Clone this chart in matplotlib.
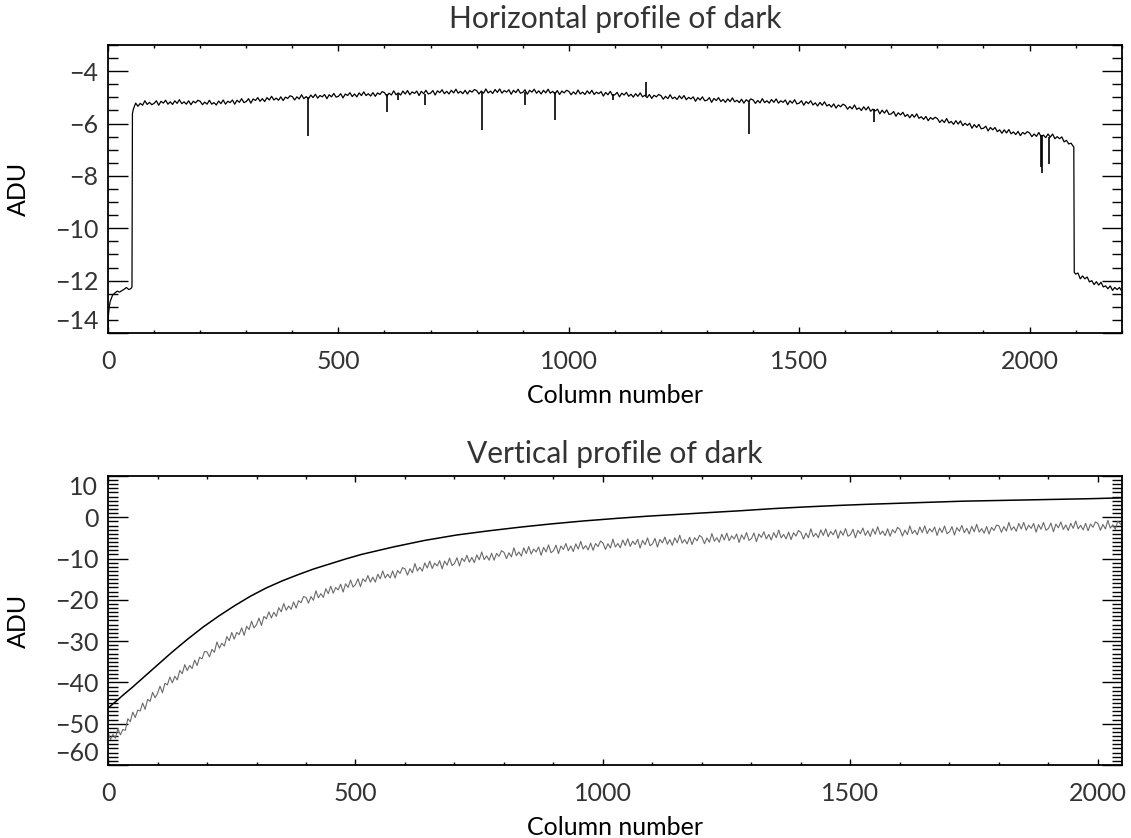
import matplotlib
matplotlib.use("Agg")
import matplotlib.pyplot as plt
import numpy as np
from matplotlib.ticker import MultipleLocator

plt.rcParams['font.family'] = ['Lato', 'DejaVu Sans']
plt.rcParams['font.size'] = 18
plt.rcParams['text.color'] = '#333333'
plt.rcParams['xtick.labelcolor'] = '#333333'
plt.rcParams['ytick.labelcolor'] = '#333333'

# ---- horizontal profile: mean ADU per column, every 5th column ----
cols_h = np.arange(0, 2201, 5)
adu_h = [
    -13.90, -12.78, -12.55, -12.47, -12.40, -12.44, -12.38, -12.33, -12.26, -12.34, -12.30, -5.45,
    -5.22, -5.34, -5.23, -5.30, -5.13, -5.27, -5.19, -5.28,
    -5.23, -5.13, -5.30, -5.15, -5.22, -5.11, -5.26, -5.17, -5.27, -5.13,
    -5.23, -5.09, -5.24, -5.17, -5.26, -5.13, -5.28, -5.15, -5.21, -5.11,
    -5.15, -5.28, -5.18, -5.26, -5.11, -5.26, -5.20, -5.29, -5.14, -5.24,
    -5.10, -5.26, -5.15, -5.20, -5.10, -5.26, -5.11, -5.19, -5.05, -5.20,
    -5.16, -5.05, -5.22, -5.06, -5.12, -5.01, -5.15, -5.05, -5.16, -5.01,
    -5.10, -4.96, -5.10, -5.03, -5.11, -4.98, -5.12, -4.99, -5.04, -4.94,
    -4.97, -5.10, -4.98, -5.06, -4.90, -5.05, -4.97, -5.06, -4.91, -5.01,
    -4.88, -5.03, -4.93, -4.98, -4.89, -5.05, -4.90, -4.98, -4.85, -4.99,
    -4.96, -4.86, -5.02, -4.87, -4.93, -4.82, -4.97, -4.87, -4.98, -4.83,
    -4.93, -4.79, -4.93, -4.86, -4.95, -4.82, -4.96, -4.83, -4.89, -4.78,
    -4.82, -4.95, -4.84, -4.91, -4.75, -4.90, -4.83, -4.91, -4.76, -4.87,
    -4.74, -4.90, -4.79, -4.85, -4.76, -4.93, -4.77, -4.86, -4.73, -4.87,
    -4.84, -4.74, -4.91, -4.75, -4.82, -4.71, -4.86, -4.77, -4.87, -4.73,
    -4.83, -4.69, -4.84, -4.77, -4.86, -4.73, -4.87, -4.74, -4.80, -4.70,
    -4.74, -4.87, -4.76, -4.84, -4.68, -4.83, -4.76, -4.85, -4.70, -4.81,
    -4.68, -4.84, -4.74, -4.80, -4.71, -4.88, -4.73, -4.82, -4.69, -4.84,
    -4.81, -4.71, -4.88, -4.73, -4.80, -4.69, -4.84, -4.75, -4.87, -4.73,
    -4.83, -4.69, -4.84, -4.77, -4.87, -4.74, -4.89, -4.76, -4.83, -4.73,
    -4.77, -4.90, -4.79, -4.88, -4.72, -4.87, -4.80, -4.89, -4.75, -4.86,
    -4.73, -4.89, -4.80, -4.86, -4.78, -4.95, -4.81, -4.90, -4.77, -4.93,
    -4.90, -4.81, -4.98, -4.84, -4.91, -4.81, -4.96, -4.88, -4.99, -4.86,
    -4.96, -4.83, -4.98, -4.92, -5.01, -4.89, -5.04, -4.92, -4.98, -4.89,
    -4.93, -5.07, -4.96, -5.05, -4.90, -5.05, -4.99, -5.08, -4.94, -5.05,
    -4.93, -5.09, -5.00, -5.06, -4.98, -5.15, -5.01, -5.10, -4.98, -5.13,
    -5.11, -5.01, -5.19, -5.04, -5.12, -5.01, -5.16, -5.08, -5.19, -5.06,
    -5.16, -5.02, -5.17, -5.11, -5.20, -5.07, -5.22, -5.09, -5.16, -5.06,
    -5.10, -5.23, -5.12, -5.21, -5.05, -5.20, -5.13, -5.22, -5.08, -5.19,
    -5.06, -5.22, -5.13, -5.19, -5.10, -5.28, -5.13, -5.22, -5.09, -5.25,
    -5.22, -5.13, -5.30, -5.16, -5.24, -5.13, -5.29, -5.21, -5.33, -5.19,
    -5.30, -5.17, -5.33, -5.27, -5.37, -5.25, -5.41, -5.29, -5.36, -5.26,
    -5.31, -5.45, -5.35, -5.44, -5.29, -5.46, -5.40, -5.50, -5.36, -5.48,
    -5.36, -5.53, -5.45, -5.52, -5.45, -5.63, -5.49, -5.60, -5.48, -5.65,
    -5.63, -5.54, -5.72, -5.59, -5.67, -5.57, -5.73, -5.65, -5.78, -5.65,
    -5.76, -5.63, -5.80, -5.74, -5.84, -5.73, -5.89, -5.77, -5.84, -5.76,
    -5.81, -5.96, -5.86, -5.96, -5.81, -5.98, -5.92, -6.03, -5.89, -6.02,
    -5.90, -6.08, -5.99, -6.07, -5.99, -6.18, -6.04, -6.15, -6.03, -6.20,
    -6.18, -6.10, -6.28, -6.15, -6.24, -6.15, -6.31, -6.24, -6.37, -6.24,
    -6.36, -6.23, -6.39, -6.32, -6.42, -6.30, -6.46, -6.34, -6.40, -6.31,
    -6.36, -6.50, -6.40, -6.49, -6.34, -6.50, -6.44, -6.54, -6.40, -6.52,
    -6.40, -6.58, -6.50, -6.58, -6.51, -6.70, -6.64, -6.78, -6.75, -6.88,
    -11.75, -11.71, -11.93, -11.82, -11.93, -11.86, -12.05, -12.00, -12.15, -12.04,
    -12.17, -12.06, -12.24, -12.20, -12.31, -12.20, -12.37, -12.26, -12.34, -12.26,
    -12.40,
]
# sharp transitions: first columns and the edges of the exposed area
edge_cols = [1, 3, 52, 53, 2096, 2097]
edge_adu = [-13.3, -12.95, -12.24, -5.62, -6.90, -11.68]
# bad columns: local level and tip of each spike
spike_cols = [434, 606, 630, 687, 812, 905, 971, 1097, 1167, 1392, 1662, 2024, 2028, 2043]
spike_level = [-4.98, -4.88, -4.88, -4.86, -4.78, -4.80, -4.80, -4.87, -4.95, -5.12, -5.45, -6.45, -6.45, -6.52]
spike_tip = [-6.47, -5.55, -5.10, -5.30, -6.23, -5.30, -5.87, -5.10, -4.41, -6.38, -5.94, -7.66, -7.89, -7.55]

# ---- vertical profile ----
# mean over the frame, per row
rows_mean = [0, 16, 32, 48, 64, 96, 128, 160, 192, 224, 256, 288, 320, 352, 384, 416,
             448, 480, 512, 576, 640, 704, 768, 832, 896, 960, 1024, 1088, 1152, 1216,
             1280, 1344, 1408, 1472, 1536, 1600, 1664, 1728, 1792, 1856, 1920, 1984, 2047]
adu_mean = [-46.2, -44.6, -42.9, -41.3, -39.6, -36.2, -32.8, -29.6, -26.6, -23.9, -21.4,
            -19.1, -17.1, -15.4, -13.9, -12.5, -11.3, -10.1, -9.0, -7.2, -5.6, -4.3,
            -3.3, -2.4, -1.6, -0.9, -0.3, 0.25, 0.7, 1.15, 1.6, 2.1, 2.5, 2.85, 3.15,
            3.4, 3.65, 3.9, 4.05, 4.2, 4.35, 4.5, 4.7]

# single cut through the frame, every 5th row
rows_cut = list(range(0, 2041, 5)) + [2047]
adu_cut = [
    -52.1, -53.8, -52.6, -53.5, -51.2, -52.7, -51.4, -51.6, -48.8, -49.5,
    -47.2, -48.5, -46.7, -46.9, -45.0, -46.5, -44.1, -44.6, -42.4, -43.7,
    -42.7, -40.9, -42.5, -40.2, -40.6, -38.7, -40.1, -38.5, -39.4, -37.1,
    -37.9, -35.7, -37.1, -35.9, -36.6, -34.6, -35.9, -33.9, -34.3, -32.5,
    -32.6, -33.8, -32.0, -32.7, -30.2, -31.7, -30.5, -31.2, -28.9, -29.9,
    -27.9, -29.5, -27.9, -28.4, -26.8, -28.6, -26.4, -27.2, -25.2, -26.8,
    -26.0, -24.4, -26.2, -24.0, -24.6, -22.9, -24.4, -23.0, -24.0, -21.9,
    -22.9, -20.9, -22.5, -21.5, -22.3, -20.5, -22.0, -20.2, -20.7, -19.2,
    -19.4, -20.8, -19.2, -20.1, -17.8, -19.5, -18.5, -19.4, -17.3, -18.5,
    -16.7, -18.4, -17.0, -17.6, -16.2, -18.1, -16.1, -17.0, -15.2, -16.9,
    -16.3, -14.9, -16.8, -14.9, -15.6, -14.1, -15.7, -14.5, -15.7, -13.8,
    -14.9, -13.0, -14.7, -13.8, -14.7, -13.0, -14.7, -12.9, -13.6, -12.2,
    -12.5, -14.0, -12.45, -13.45, -11.2, -13.0, -12.1, -13.05, -11.05, -12.3,
    -10.6, -12.4, -11.1, -11.8, -10.5, -12.5, -10.6, -11.6, -9.9, -11.7,
    -11.2, -9.8, -11.8, -9.9, -10.7, -9.2, -10.9, -9.7, -11.0, -9.1,
    -10.3, -8.4, -10.25, -9.35, -10.4, -8.7, -10.4, -8.75, -9.45, -8.1,
    -8.5, -10.0, -8.6, -9.6, -7.4, -9.3, -8.4, -9.4, -7.4, -8.8,
    -7.1, -8.9, -7.7, -8.4, -7.2, -9.2, -7.3, -8.4, -6.7, -8.6,
    -8.1, -6.75, -8.8, -6.95, -7.8, -6.35, -8.1, -6.95, -8.3, -6.45,
    -7.7, -5.85, -7.7, -6.85, -7.9, -6.25, -8.0, -6.35, -7.1, -5.75,
    -6.25, -7.8, -6.4, -7.45, -5.3, -7.2, -6.35, -7.4, -5.5, -6.85,
    -5.2, -7.05, -5.8, -6.6, -5.35, -7.45, -5.6, -6.65, -5.0, -6.9,
    -6.45, -5.1, -7.2, -5.35, -6.2, -4.8, -6.55, -5.4, -6.8, -4.95,
    -6.2, -4.35, -6.25, -5.4, -6.45, -4.85, -6.6, -4.95, -5.7, -4.4,
    -4.85, -6.4, -5.0, -6.05, -3.95, -5.8, -4.95, -6.05, -4.1, -5.5,
    -3.85, -5.7, -4.5, -5.25, -4.05, -6.1, -4.25, -5.35, -3.7, -5.6,
    -5.15, -3.8, -5.9, -4.05, -4.9, -3.5, -5.25, -4.15, -5.5, -3.7,
    -4.95, -3.1, -5.0, -4.15, -5.25, -3.6, -5.4, -3.75, -4.55, -3.2,
    -3.7, -5.3, -3.85, -4.95, -2.8, -4.7, -3.9, -4.95, -3.05, -4.4,
    -2.8, -4.7, -3.45, -4.25, -3.0, -5.1, -3.3, -4.35, -2.75, -4.6,
    -4.2, -2.9, -4.95, -3.15, -4.0, -2.6, -4.4, -3.25, -4.65, -2.8,
    -4.1, -2.3, -4.15, -3.35, -4.45, -2.8, -4.6, -3.0, -3.8, -2.45,
    -2.95, -4.55, -3.1, -4.2, -2.1, -3.95, -3.15, -4.25, -2.35, -3.7,
    -2.1, -3.95, -2.75, -3.55, -2.35, -4.4, -2.6, -3.7, -2.1, -3.95,
    -3.55, -2.25, -4.3, -2.5, -3.4, -1.95, -3.75, -2.65, -4.05, -2.2,
    -3.5, -1.7, -3.6, -2.75, -3.85, -2.25, -4.05, -2.45, -3.2, -1.9,
    -2.1, -3.65, -2.25, -3.35, -1.25, -3.1, -2.3, -3.4, -1.5, -2.85,
    -1.25, -3.15, -1.9, -2.7, -1.5, -3.6, -1.8, -2.9, -1.25, -3.15,
    -2.7, -1.4, -3.5, -1.65, -2.55, -1.15, -2.95, -1.85, -3.2, -1.45,
    -2.7, -0.9, -2.8, -1.95, -3.05, -1.45, -3.25, -1.63, -2.42, -1.11,
    -1.55, -3.15, -1.74, -2.83, -0.74, -2.63, -1.82, -2.88, -0.97,
    -1.8,
]

col_all = np.concatenate([cols_h, edge_cols])
adu_all = np.concatenate([adu_h, edge_adu])
order = np.argsort(col_all, kind='stable')

fig = plt.figure(figsize=(11.31, 8.38), dpi=100)
ax1 = fig.add_axes([0.0955, 0.6026, 0.8963, 0.3437])
ax2 = fig.add_axes([0.0955, 0.0871, 0.8963, 0.3449])

ax1.plot(col_all[order], adu_all[order], color='black', lw=0.9)
ax1.vlines(spike_cols, spike_level, spike_tip, color='black', lw=1.2)
ax1.set_xlim(0, 2200)
ax1.set_ylim(-14, -3)
ax1.yaxis.set_major_locator(MultipleLocator(2))
ax1.yaxis.set_minor_locator(MultipleLocator(0.5))
ax1.set_title('Horizontal profile of dark', pad=12.5)

ax2.plot(rows_cut, adu_cut, color='#6a6a6a', lw=0.8)
ax2.plot(rows_mean, adu_mean, color='black', lw=1.1)
ax2.set_xlim(0, 2048)
ax2.set_ylim(-60, 10)
ax2.yaxis.set_major_locator(MultipleLocator(10))
ax2.yaxis.set_minor_locator(MultipleLocator(1))
ax2.set_title('Vertical profile of dark', pad=9.5)

for ax in (ax1, ax2):
    ax.xaxis.set_major_locator(MultipleLocator(500))
    ax.xaxis.set_minor_locator(MultipleLocator(100))
    ax.set_xlabel('Column number', labelpad=8)
    ax.set_ylabel('ADU', labelpad=18)
    for s in ax.spines.values():
        s.set_linewidth(1.3)
    ax.tick_params(which='both', direction='in', top=True, right=True, width=1.0)
    ax.tick_params(axis='x', which='major', length=4.3, pad=12)
    ax.tick_params(axis='x', which='minor', length=2.2)
    ax.tick_params(axis='y', which='major', length=14.4, pad=7)
    ax.tick_params(axis='y', which='minor', length=7.2)

fig.canvas.draw()
# keep the end labels of the y axes inside the frame
for ax in (ax1, ax2):
    lo, hi = ax.get_ylim()
    for tick in ax.yaxis.get_major_ticks():
        v = tick.get_loc()
        if abs(v - lo) < 1e-6:
            tick.label1.set_verticalalignment('bottom')
        elif abs(v - hi) < 1e-6:
            tick.label1.set_verticalalignment('top')

fig.savefig('out.png', dpi=100)
